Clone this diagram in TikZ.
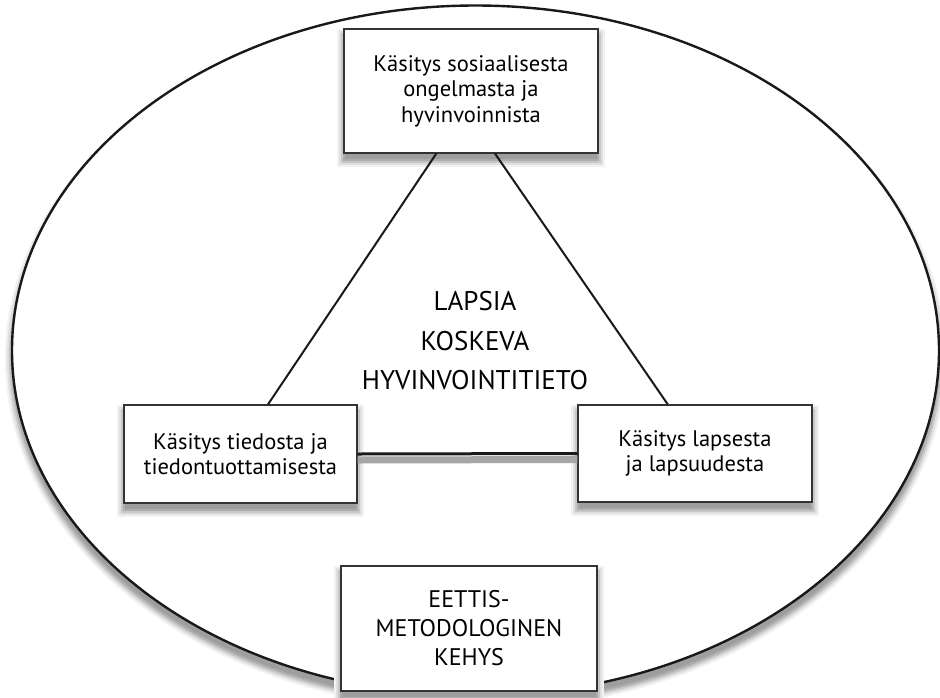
\documentclass[tikz,border=0pt]{standalone}
\usepackage{fontspec}
\setmainfont{PT Sans}
\usetikzlibrary{shapes.geometric}

\begin{document}
\begin{tikzpicture}[x=1pt, y=-1pt,
  softshadow/.style={
    preaction={draw=black!5, line width=14pt, transform canvas={yshift=-#1}},
    preaction={draw=black!12, line width=10pt, transform canvas={yshift=-#1}},
    preaction={draw=black!22, line width=6pt, transform canvas={yshift=-#1}},
    preaction={draw=black!32, line width=2pt, fill=black!38, transform canvas={yshift=-#1}}},
  frame/.style={ellipse, draw=black!90, line width=2.4pt, fill=white, inner sep=0pt,
    minimum width=927pt, minimum height=690pt, softshadow=8pt},
  box/.style={rectangle, draw=black!80, line width=1.3pt, fill=white, align=center,
    font=\fontsize{22.5}{25.5}\selectfont, softshadow=7pt},
  link/.style={draw=black!90, line width=2pt}]
\useasboundingbox (0,0) rectangle (940,697);
\node[frame] (F) at (475.5,350.5) {};
\node[box, minimum width=254pt, minimum height=124pt] (T) at (471.000,91.000) {Käsitys sosiaalisesta\\ongelmasta ja\\hyvinvoinnista};
\node[box, minimum width=233pt, minimum height=98pt] (L) at (240.500,454.000) {Käsitys tiedosta ja\\tiedontuottamisesta};
\node[box, minimum width=234pt, minimum height=97pt] (R) at (695.000,453.500) {Käsitys lapsesta\\ja lapsuudesta};
\node[box, minimum width=256pt, minimum height=125pt, font=\fontsize{24}{29}\selectfont] (B) at (469.000,628.500) {EETTIS-\\METODOLOGINEN\\KEHYS};
\node[align=center, inner sep=0pt, font=\fontsize{27}{39.5}\selectfont] (C) at (475.000,341.000) {LAPSIA\\KOSKEVA\\HYVINVOINTITIETO};
\draw[link] (T.241) -- (L.61);
\draw[link] (T.291) -- (R.119);
\draw[link, line width=3pt, preaction={draw, black!35, line width=7pt, transform canvas={yshift=-6pt}}] (L.east) -- (R.west);
\end{tikzpicture}
\end{document}
